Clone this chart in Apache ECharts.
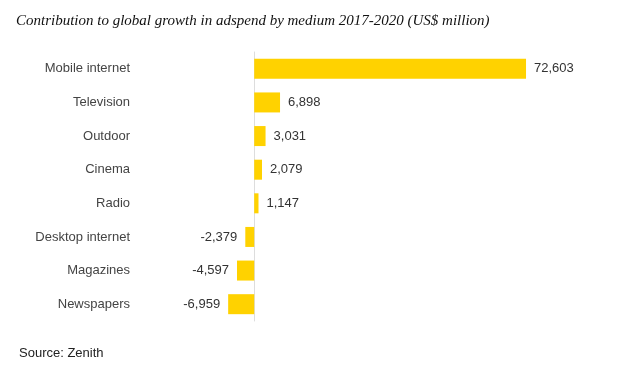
<!DOCTYPE html>
<html><head><meta charset="utf-8">
<script src="https://cdn.jsdelivr.net/npm/echarts@6/dist/echarts.min.js"></script>
<style>html,body{margin:0;padding:0;background:#fff}#c{width:630px;height:372px}</style>
</head><body><div id="c"></div>
<script>
const categories = ["Mobile internet","Television","Outdoor","Cinema","Radio","Desktop internet","Magazines","Newspapers"];
const values = [72603, 6898, 3031, 2079, 1147, -2379, -4597, -6959];
const titleText = "Contribution to global growth in adspend by medium 2017-2020 (US$ million)";
const sourceText = "Source: Zenith";

const chart = echarts.init(document.getElementById('c'));
chart.setOption({
  animation: false,
  backgroundColor: '#fff',
  title: [
    {text: titleText, left: 11, top: 9, textStyle: {fontFamily: 'Liberation Serif', fontStyle: 'italic', fontWeight: 'normal', fontSize: 15, color: '#111'}},
    {text: sourceText, left: 14, top: 342, textStyle: {fontFamily: 'Liberation Sans', fontWeight: 'normal', fontSize: 13, color: '#222'}}
  ],
  grid: {left: 228, right: 95, top: 52, bottom: 51, containLabel: false},
  xAxis: {type: 'value', min: -7000, max: 75000, show: false},
  yAxis: {
    type: 'category', data: categories, inverse: true,
    axisLine: {show: true, onZero: true, lineStyle: {color: '#ddd', width: 1}},
    axisTick: {show: false},
    axisLabel: {margin: 98, fontFamily: 'Liberation Sans', fontSize: 13, color: '#444'}
  },
  series: [{
    type: 'bar', barWidth: 20,
    itemStyle: {color: '#FFD200'},
    data: values.map(v => ({value: v, label: {position: v >= 0 ? 'right' : 'left'}})),
    label: {show: true, distance: 8, fontFamily: 'Liberation Sans', fontSize: 13, color: '#333',
      formatter: p => p.value.toLocaleString('en-US')}
  }]
});
</script></body></html>
